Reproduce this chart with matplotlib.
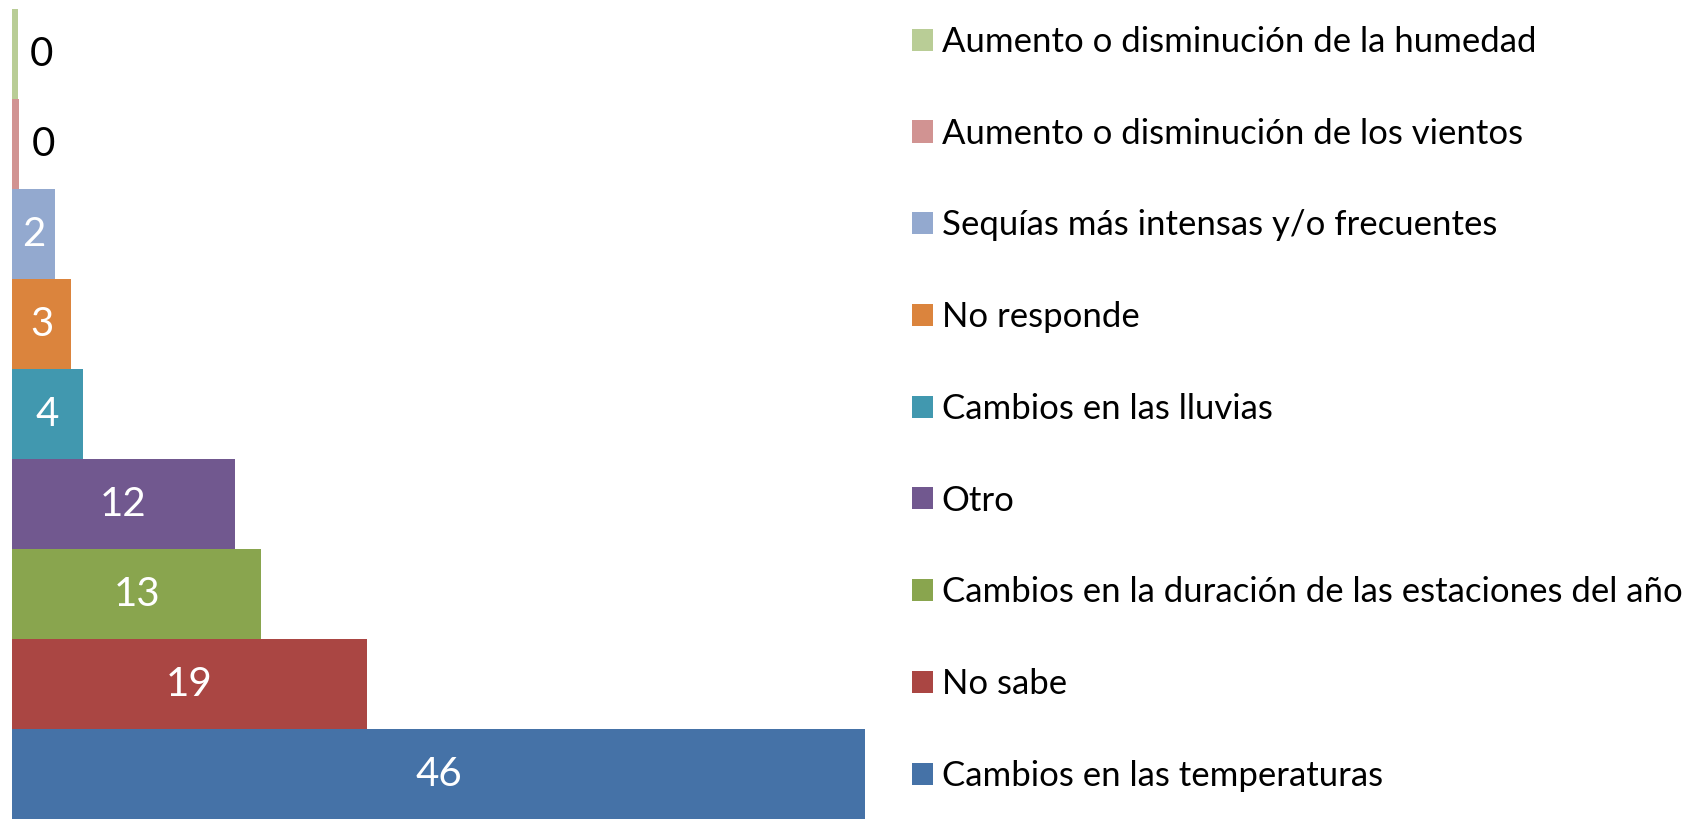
import matplotlib
matplotlib.use("Agg")
import matplotlib.pyplot as plt
from matplotlib.patches import Patch

plt.rcParams['font.family'] = ['Lato', 'DejaVu Sans']

categories = [
    "Cambios en las temperaturas",
    "No sabe",
    "Cambios en la duración de las estaciones del año",
    "Otro",
    "Cambios en las lluvias",
    "No responde",
    "Sequías más intensas y/o frecuentes",
    "Aumento o disminución de los vientos",
    "Aumento o disminución de la humedad",
]
values = [45.9, 19.1, 13.4, 12.0, 3.8, 3.2, 2.3, 0.4, 0.3]
colors = ["#4572A7", "#AA4643", "#89A54E", "#71588F", "#4198AF",
          "#DB843D", "#93A9CF", "#D19392", "#B9CD96"]

W, H = 1694, 819
fig = plt.figure(figsize=(W / 100, H / 100), dpi=100)
x0, x1 = 12, 865.4
ax = fig.add_axes([x0 / W, 0, (x1 - x0) / W, 810 / H])

handles = []
for i, (cat, v, c) in enumerate(zip(categories, values, colors)):
    ax.barh(i, v, height=1.0, color=c, linewidth=0)
    lab = f"{v:.0f}"
    if v < 1:
        ax.annotate(lab, xy=(v, i), xytext=(12, 0), textcoords='offset pixels',
                    ha='left', va='center', fontsize=29, color='black')
    else:
        ax.text(v / 2, i, lab, ha='center', va='center', fontsize=29, color='white')
    handles.append(Patch(facecolor=c, edgecolor='none', label=cat))

ax.set_xlim(0, values[0])
ax.set_ylim(-0.5, len(values) - 0.5)
ax.axis('off')

leg = fig.legend(handles=handles[::-1], loc='upper left',
                 bbox_to_anchor=(912 / W, 1 - 26 / H), frameon=False,
                 fontsize=25, handlelength=0.6, handleheight=0.6,
                 handletextpad=0.25, labelspacing=1.72, borderpad=0,
                 borderaxespad=0)

fig.savefig("out.png", dpi=100)
